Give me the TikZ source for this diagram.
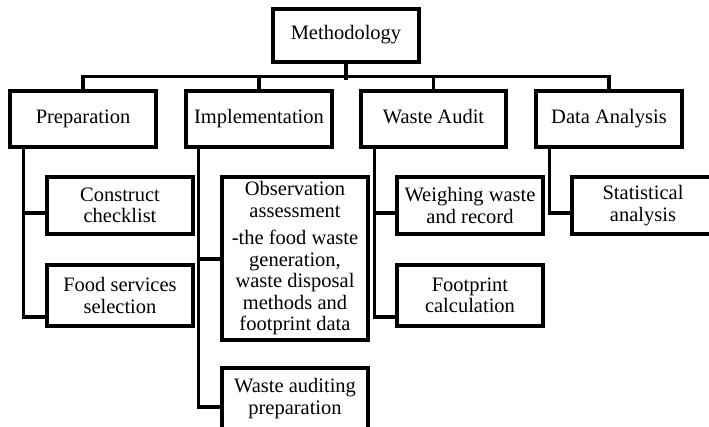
\documentclass[tikz,border=0pt]{standalone}
\usepackage{fontspec}
\setmainfont{Liberation Serif}
\begin{document}
\begin{tikzpicture}[x=1pt,y=-1pt,
  box/.style={draw=black,line width=3.2pt,inner sep=0pt,align=center,
    font=\fontsize{20.5}{21.5}\selectfont,fill=white},
  conn/.style={draw=black,line width=3.2pt}]
\useasboundingbox (0,0) rectangle (709,427);
\clip (0,0) rectangle (709,427);
% top
\node[box,minimum width=146pt,minimum height=53pt] (meth) at (346,35.5) {\strut Methodology};
% level 1
\node[box,minimum width=146pt,minimum height=56pt] (prep) at (83,119) {\strut Preparation};
\node[box,minimum width=146pt,minimum height=56pt] (impl) at (259,119) {\strut Implementation};
\node[box,minimum width=145pt,minimum height=56pt] (wa) at (433.5,119) {\strut Waste Audit};
\node[box,minimum width=146pt,minimum height=56pt] (da) at (609,119) {\strut Data Analysis};
% level 2
\node[box,minimum width=146pt,minimum height=57pt] (cc) at (120,205.5) {Construct\\checklist};
\node[box,minimum width=146pt,minimum height=61pt] (fs) at (120,295.5) {Food services\\selection};
\node[box,minimum width=146pt,minimum height=163pt] (obs) at (295,258.5) {Observation\\assessment\\[6pt]-the food waste\\generation,\\waste disposal\\methods and\\footprint data};
\node[box,minimum width=146pt,minimum height=61pt] (wap) at (295,398.5) {Waste auditing\\preparation};
\node[box,minimum width=146pt,minimum height=57pt] (ww) at (470,205.5) {Weighing waste\\and record};
\node[box,minimum width=146pt,minimum height=61pt] (fc) at (470,295.5) {Footprint\\calculation};
\node[box,minimum width=142pt,minimum height=57pt] (sa) at (643,205.5) {Statistical\\analysis};
% bus
\draw[conn] (meth.south) -- ++(0,16);
\draw[conn] (prep.north) -- ++(0,-13) -| (da.north);
\draw[conn] (impl.north) -- ++(0,-13);
\draw[conn] (wa.north) -- ++(0,-13);
% branches
\draw[conn] ([xshift=15pt]prep.south west) |- ([yshift=-21.5pt]fs.west);
\draw[conn] ([yshift=-7.5pt]cc.west) -| ([xshift=15pt]prep.south west);
\draw[conn] ([xshift=14pt]impl.south west) |- ([yshift=-8.5pt]wap.west);
\draw[conn] ([yshift=-0.5pt]obs.west) -| ([xshift=14pt]impl.south west);
\draw[conn] ([xshift=15pt]wa.south west) |- ([yshift=-21.5pt]fc.west);
\draw[conn] ([yshift=-7.5pt]ww.west) -| ([xshift=15pt]wa.south west);
\draw[conn] ([xshift=15pt]da.south west) |- ([yshift=-7.5pt]sa.west);
\end{tikzpicture}
\end{document}
